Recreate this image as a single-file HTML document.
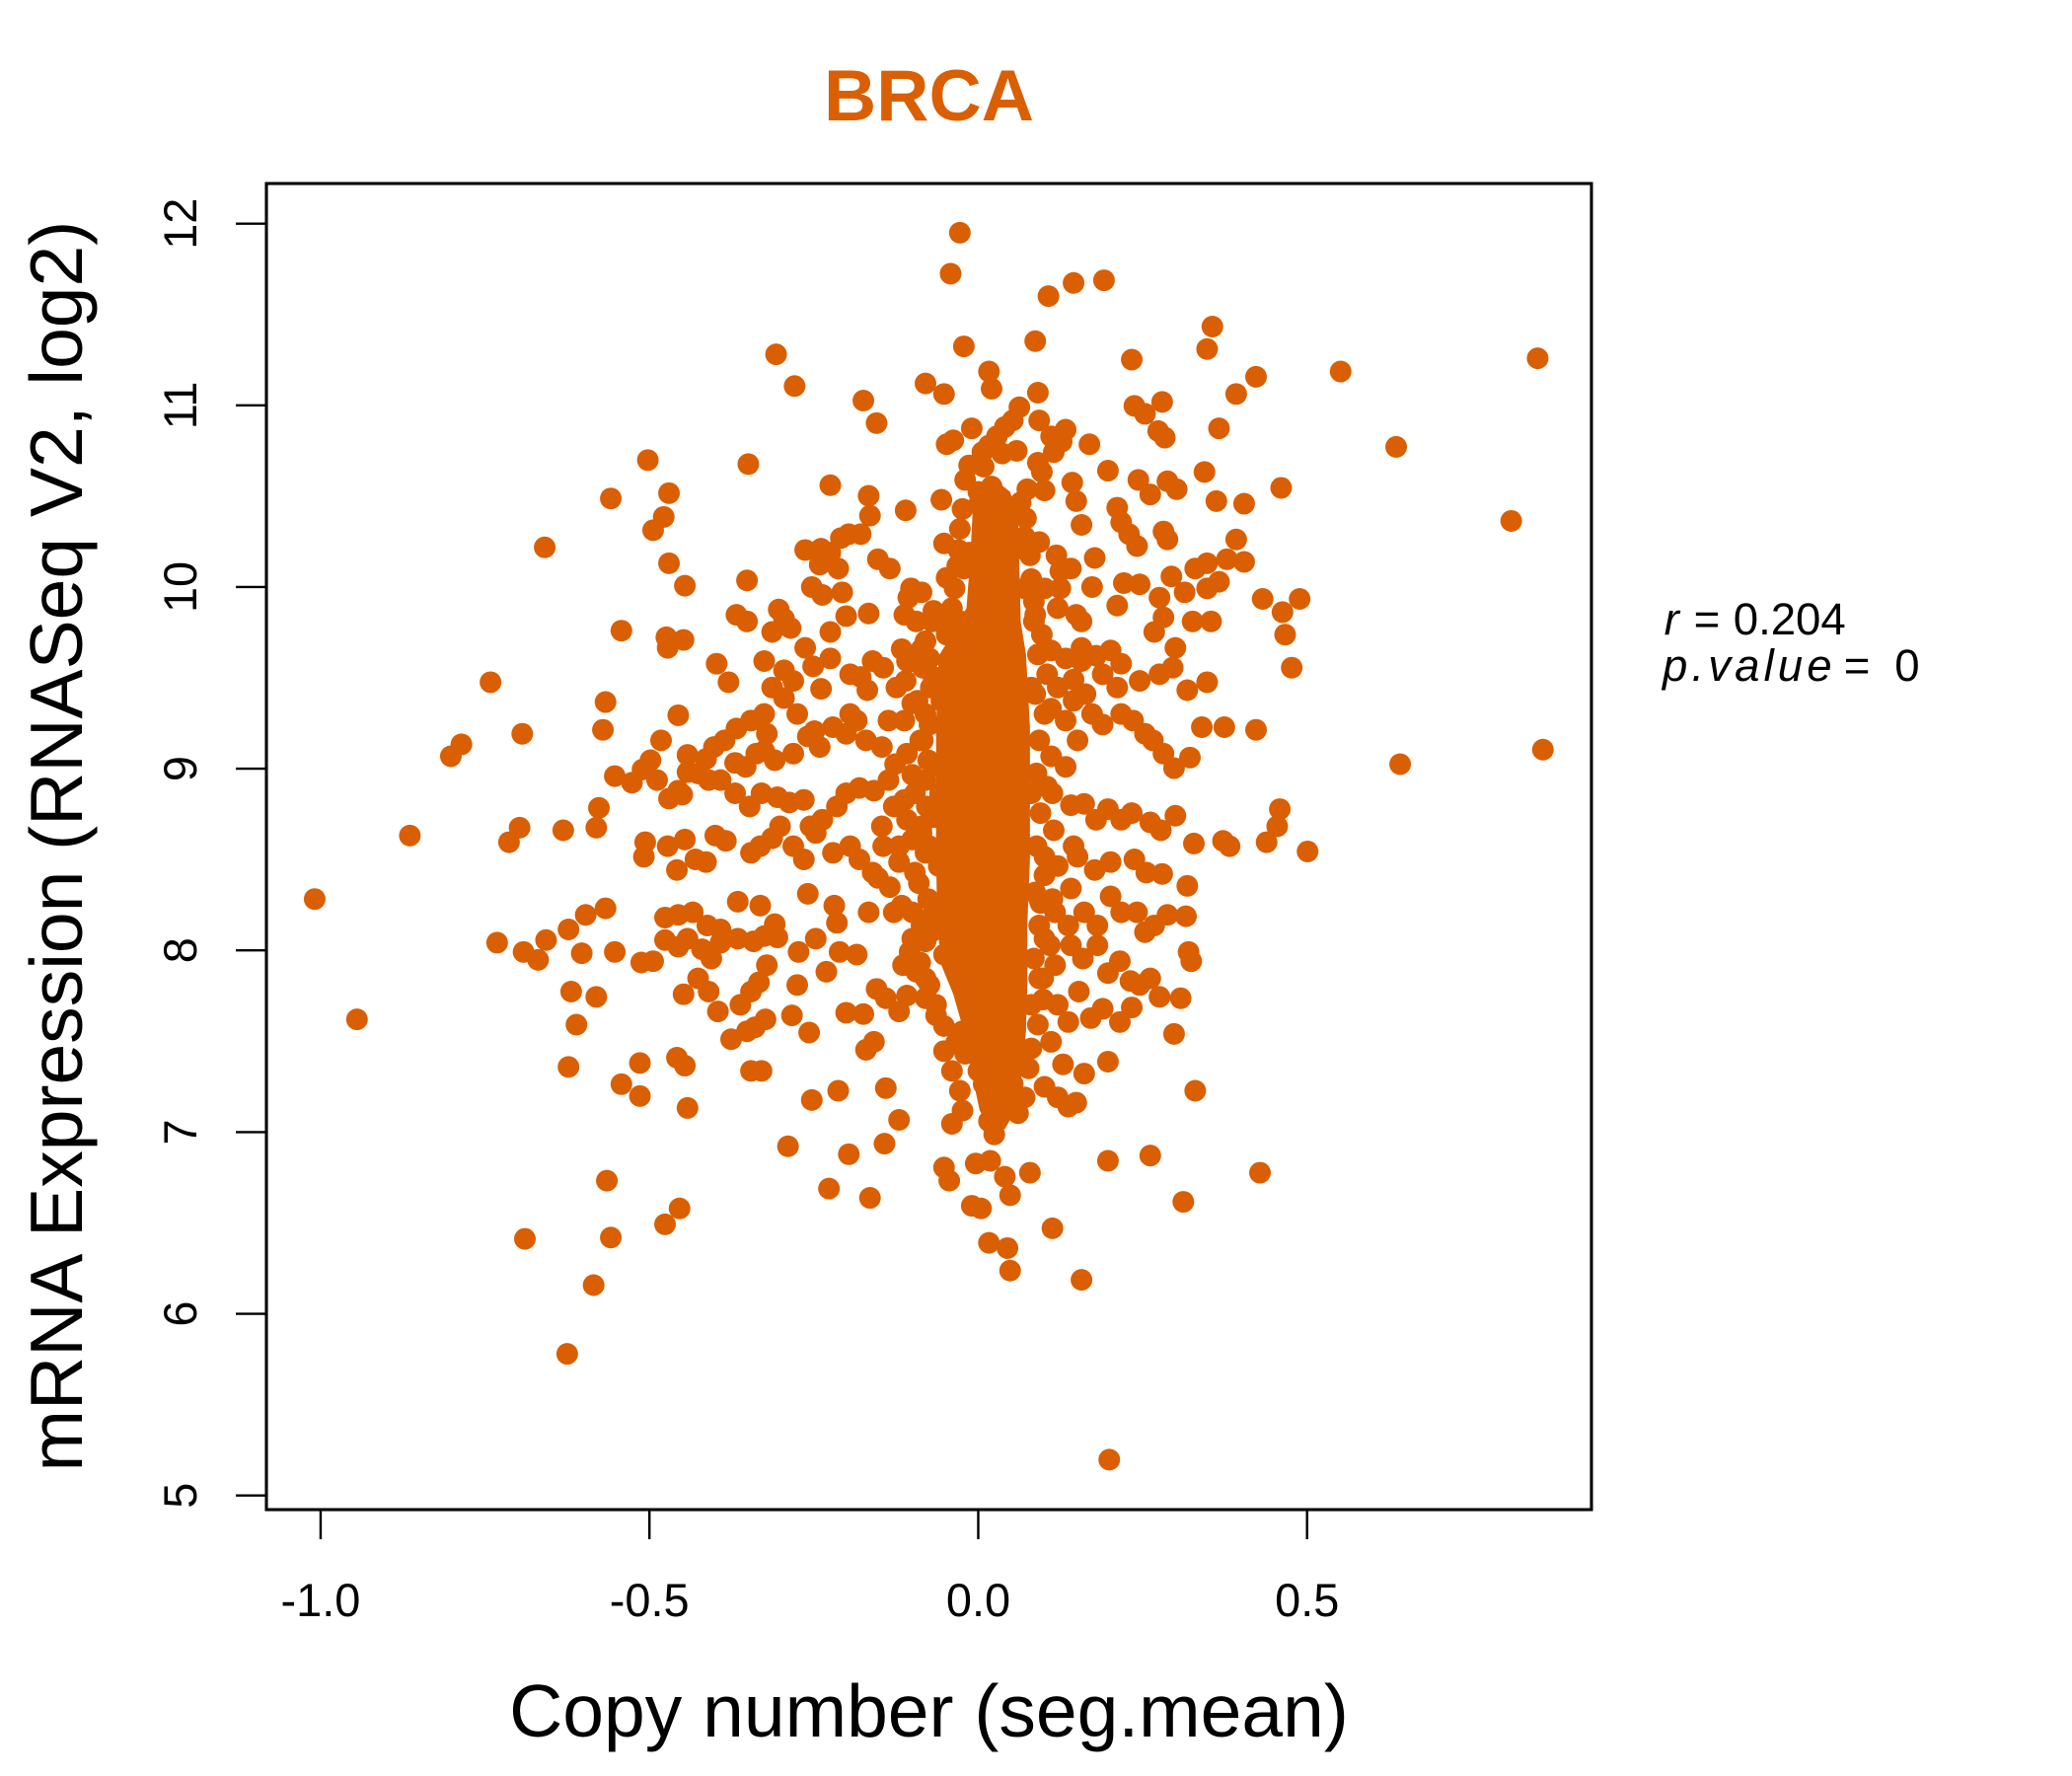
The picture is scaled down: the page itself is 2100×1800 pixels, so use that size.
<!DOCTYPE html>
<html>
<head>
<meta charset="utf-8">
<style>
html,body{margin:0;padding:0;background:#fff;}
svg{display:block;}
text{font-family:"Liberation Sans",Arial,Helvetica,sans-serif;}
</style>
</head>
<body>
<svg width="2100" height="1800" viewBox="0 0 1567.16 1343.28" preserveAspectRatio="none" xmlns="http://www.w3.org/2000/svg">
<rect x="0" y="0" width="1567.16" height="1343.28" fill="#fff"/>
<text x="702.6" y="91" font-size="55" font-weight="bold" fill="#D95F02" text-anchor="middle">BRCA</text>
<g fill="#D95F02">
<path d="M742,366 L736,380 L734,420 L731,460 L720,480 L710,496 L708,550 L708,650 L709,700 L712,730 L721,752 L729,780 L735,812 L741,840 L750,854 L760,854 L768,840 L773,812 L776,780 L777,745 L777,700 L779,650 L779,550 L776,495 L772,470 L771,430 L770,390 L764,372 L754,364 Z"/>
</g>
<g fill="#D95F02">
<circle cx="726" cy="176" r="8.2"/><circle cx="719" cy="207" r="8.2"/><circle cx="812" cy="214" r="8.2"/><circle cx="835" cy="212" r="8.2"/><circle cx="793" cy="224" r="8.2"/><circle cx="917" cy="247" r="8.2"/><circle cx="729" cy="262" r="8.2"/><circle cx="913" cy="264" r="8.2"/><circle cx="587" cy="268" r="8.2"/><circle cx="856" cy="272" r="8.2"/><circle cx="783" cy="258" r="8.2"/><circle cx="748" cy="281" r="8.2"/><circle cx="1163" cy="271" r="8.2"/><circle cx="1014" cy="281" r="8.2"/><circle cx="601" cy="292" r="8.2"/><circle cx="700" cy="290" r="8.2"/><circle cx="750" cy="294" r="8.2"/><circle cx="714" cy="298" r="8.2"/><circle cx="950" cy="285" r="8.2"/><circle cx="935" cy="298" r="8.2"/><circle cx="879" cy="304" r="8.2"/><circle cx="653" cy="303" r="8.2"/><circle cx="663" cy="320" r="8.2"/><circle cx="785" cy="297" r="8.2"/><circle cx="771" cy="308" r="8.2"/><circle cx="858" cy="307" r="8.2"/><circle cx="866" cy="313" r="8.2"/><circle cx="876" cy="326" r="8.2"/><circle cx="881" cy="331" r="8.2"/><circle cx="922" cy="324" r="8.2"/><circle cx="1056" cy="338" r="8.2"/><circle cx="766" cy="318" r="8.2"/><circle cx="760" cy="323" r="8.2"/><circle cx="754" cy="330" r="8.2"/><circle cx="748" cy="337" r="8.2"/><circle cx="743" cy="342" r="8.2"/><circle cx="735" cy="324" r="8.2"/><circle cx="721" cy="333" r="8.2"/><circle cx="716" cy="336" r="8.2"/><circle cx="786" cy="318" r="8.2"/><circle cx="795" cy="330" r="8.2"/><circle cx="806" cy="325" r="8.2"/><circle cx="803" cy="334" r="8.2"/><circle cx="797" cy="342" r="8.2"/><circle cx="824" cy="336" r="8.2"/><circle cx="785" cy="350" r="8.2"/><circle cx="758" cy="343" r="8.2"/><circle cx="769" cy="341" r="8.2"/><circle cx="733" cy="352" r="8.2"/><circle cx="744" cy="353" r="8.2"/><circle cx="490" cy="348" r="8.2"/>
<circle cx="566" cy="351" r="8.2"/><circle cx="730" cy="363" r="8.2"/><circle cx="788" cy="357" r="8.2"/><circle cx="811" cy="365" r="8.2"/><circle cx="790" cy="371" r="8.2"/><circle cx="838" cy="356" r="8.2"/><circle cx="861" cy="363" r="8.2"/><circle cx="911" cy="357" r="8.2"/><circle cx="883" cy="364" r="8.2"/><circle cx="890" cy="370" r="8.2"/><circle cx="628" cy="367" r="8.2"/><circle cx="657" cy="375" r="8.2"/><circle cx="462" cy="377" r="8.2"/><circle cx="506" cy="373" r="8.2"/><circle cx="685" cy="386" r="8.2"/><circle cx="712" cy="378" r="8.2"/><circle cx="741" cy="380" r="8.2"/><circle cx="745" cy="385" r="8.2"/><circle cx="751" cy="390" r="8.2"/><circle cx="762" cy="385" r="8.2"/><circle cx="772" cy="380" r="8.2"/><circle cx="814" cy="379" r="8.2"/><circle cx="845" cy="384" r="8.2"/><circle cx="870" cy="374" r="8.2"/><circle cx="920" cy="379" r="8.2"/><circle cx="941" cy="381" r="8.2"/><circle cx="969" cy="369" r="8.2"/><circle cx="502" cy="391" r="8.2"/><circle cx="494" cy="401" r="8.2"/><circle cx="1143" cy="394" r="8.2"/><circle cx="658" cy="390" r="8.2"/><circle cx="642" cy="404" r="8.2"/><circle cx="636" cy="407" r="8.2"/><circle cx="651" cy="404" r="8.2"/><circle cx="609" cy="416" r="8.2"/><circle cx="621" cy="415" r="8.2"/><circle cx="714" cy="411" r="8.2"/><circle cx="725" cy="416" r="8.2"/><circle cx="757" cy="400" r="8.2"/><circle cx="775" cy="406" r="8.2"/><circle cx="786" cy="410" r="8.2"/><circle cx="818" cy="397" r="8.2"/><circle cx="848" cy="395" r="8.2"/><circle cx="854" cy="404" r="8.2"/><circle cx="880" cy="402" r="8.2"/><circle cx="883" cy="408" r="8.2"/><circle cx="412" cy="414" r="8.2"/><circle cx="506" cy="426" r="8.2"/><circle cx="664" cy="423" r="8.2"/><circle cx="673" cy="430" r="8.2"/><circle cx="634" cy="430" r="8.2"/><circle cx="620" cy="427" r="8.2"/><circle cx="628" cy="418" r="8.2"/><circle cx="733" cy="418" r="8.2"/><circle cx="742" cy="415" r="8.2"/><circle cx="773" cy="415" r="8.2"/><circle cx="799" cy="420" r="8.2"/><circle cx="802" cy="432" r="8.2"/><circle cx="828" cy="422" r="8.2"/><circle cx="810" cy="430" r="8.2"/><circle cx="860" cy="413" r="8.2"/><circle cx="935" cy="408" r="8.2"/><circle cx="928" cy="423" r="8.2"/><circle cx="941" cy="425" r="8.2"/><circle cx="913" cy="426" r="8.2"/>
<circle cx="518" cy="443" r="8.2"/><circle cx="565" cy="439" r="8.2"/><circle cx="689" cy="445" r="8.2"/><circle cx="697" cy="448" r="8.2"/><circle cx="716" cy="437" r="8.2"/><circle cx="724" cy="428" r="8.2"/><circle cx="780" cy="438" r="8.2"/><circle cx="790" cy="445" r="8.2"/><circle cx="802" cy="445" r="8.2"/><circle cx="826" cy="444" r="8.2"/><circle cx="850" cy="441" r="8.2"/><circle cx="862" cy="442" r="8.2"/><circle cx="886" cy="436" r="8.2"/><circle cx="896" cy="448" r="8.2"/><circle cx="904" cy="430" r="8.2"/><circle cx="913" cy="445" r="8.2"/><circle cx="922" cy="440" r="8.2"/><circle cx="637" cy="448" r="8.2"/><circle cx="614" cy="444" r="8.2"/><circle cx="622" cy="450" r="8.2"/><circle cx="589" cy="461" r="8.2"/><circle cx="593" cy="468" r="8.2"/><circle cx="598" cy="475" r="8.2"/><circle cx="584" cy="478" r="8.2"/><circle cx="557" cy="465" r="8.2"/><circle cx="565" cy="470" r="8.2"/><circle cx="470" cy="477" r="8.2"/><circle cx="504" cy="482" r="8.2"/><circle cx="517" cy="484" r="8.2"/><circle cx="505" cy="490" r="8.2"/><circle cx="628" cy="478" r="8.2"/><circle cx="640" cy="466" r="8.2"/><circle cx="657" cy="464" r="8.2"/><circle cx="687" cy="452" r="8.2"/><circle cx="684" cy="465" r="8.2"/><circle cx="693" cy="470" r="8.2"/><circle cx="706" cy="462" r="8.2"/><circle cx="714" cy="470" r="8.2"/><circle cx="783" cy="465" r="8.2"/><circle cx="800" cy="460" r="8.2"/><circle cx="814" cy="465" r="8.2"/><circle cx="818" cy="470" r="8.2"/><circle cx="845" cy="458" r="8.2"/><circle cx="877" cy="452" r="8.2"/><circle cx="880" cy="467" r="8.2"/><circle cx="873" cy="478" r="8.2"/><circle cx="889" cy="490" r="8.2"/><circle cx="902" cy="470" r="8.2"/><circle cx="916" cy="470" r="8.2"/><circle cx="970" cy="463" r="8.2"/><circle cx="955" cy="453" r="8.2"/><circle cx="972" cy="480" r="8.2"/><circle cx="983" cy="453" r="8.2"/>
<circle cx="542" cy="502" r="8.2"/><circle cx="551" cy="516" r="8.2"/><circle cx="578" cy="500" r="8.2"/><circle cx="593" cy="507" r="8.2"/><circle cx="609" cy="490" r="8.2"/><circle cx="615" cy="504" r="8.2"/><circle cx="628" cy="498" r="8.2"/><circle cx="621" cy="521" r="8.2"/><circle cx="643" cy="510" r="8.2"/><circle cx="651" cy="512" r="8.2"/><circle cx="656" cy="522" r="8.2"/><circle cx="660" cy="500" r="8.2"/><circle cx="668" cy="505" r="8.2"/><circle cx="682" cy="491" r="8.2"/><circle cx="690" cy="500" r="8.2"/><circle cx="697" cy="491" r="8.2"/><circle cx="703" cy="498" r="8.2"/><circle cx="706" cy="512" r="8.2"/><circle cx="685" cy="515" r="8.2"/><circle cx="795" cy="492" r="8.2"/><circle cx="806" cy="498" r="8.2"/><circle cx="818" cy="500" r="8.2"/><circle cx="829" cy="496" r="8.2"/><circle cx="840" cy="492" r="8.2"/><circle cx="848" cy="502" r="8.2"/><circle cx="834" cy="510" r="8.2"/><circle cx="812" cy="514" r="8.2"/><circle cx="800" cy="520" r="8.2"/><circle cx="821" cy="525" r="8.2"/><circle cx="845" cy="520" r="8.2"/><circle cx="862" cy="515" r="8.2"/><circle cx="877" cy="510" r="8.2"/><circle cx="887" cy="505" r="8.2"/><circle cx="898" cy="522" r="8.2"/><circle cx="913" cy="516" r="8.2"/><circle cx="977" cy="505" r="8.2"/><circle cx="371" cy="516" r="8.2"/><circle cx="458" cy="531" r="8.2"/><circle cx="456" cy="552" r="8.2"/><circle cx="584" cy="520" r="8.2"/><circle cx="593" cy="528" r="8.2"/><circle cx="600" cy="515" r="8.2"/><circle cx="603" cy="540" r="8.2"/><circle cx="578" cy="540" r="8.2"/><circle cx="568" cy="545" r="8.2"/><circle cx="580" cy="555" r="8.2"/><circle cx="557" cy="551" r="8.2"/><circle cx="548" cy="560" r="8.2"/><circle cx="540" cy="565" r="8.2"/><circle cx="534" cy="574" r="8.2"/><circle cx="520" cy="571" r="8.2"/><circle cx="513" cy="541" r="8.2"/><circle cx="500" cy="560" r="8.2"/><circle cx="492" cy="575" r="8.2"/><circle cx="497" cy="590" r="8.2"/><circle cx="486" cy="582" r="8.2"/><circle cx="478" cy="592" r="8.2"/><circle cx="506" cy="604" r="8.2"/><circle cx="513" cy="598" r="8.2"/><circle cx="520" cy="584" r="8.2"/><circle cx="528" cy="585" r="8.2"/><circle cx="536" cy="590" r="8.2"/><circle cx="545" cy="590" r="8.2"/><circle cx="556" cy="577" r="8.2"/><circle cx="564" cy="580" r="8.2"/><circle cx="572" cy="570" r="8.2"/><circle cx="578" cy="568" r="8.2"/><circle cx="586" cy="575" r="8.2"/><circle cx="600" cy="570" r="8.2"/><circle cx="611" cy="557" r="8.2"/><circle cx="620" cy="565" r="8.2"/><circle cx="616" cy="553" r="8.2"/><circle cx="630" cy="550" r="8.2"/><circle cx="640" cy="555" r="8.2"/><circle cx="648" cy="545" r="8.2"/><circle cx="643" cy="540" r="8.2"/><circle cx="655" cy="560" r="8.2"/><circle cx="667" cy="565" r="8.2"/><circle cx="672" cy="545" r="8.2"/><circle cx="684" cy="545" r="8.2"/><circle cx="690" cy="532" r="8.2"/><circle cx="700" cy="540" r="8.2"/><circle cx="698" cy="560" r="8.2"/><circle cx="686" cy="570" r="8.2"/><circle cx="677" cy="578" r="8.2"/><circle cx="690" cy="586" r="8.2"/><circle cx="700" cy="590" r="8.2"/><circle cx="708" cy="579" r="8.2"/><circle cx="795" cy="536" r="8.2"/><circle cx="806" cy="545" r="8.2"/><circle cx="812" cy="530" r="8.2"/><circle cx="826" cy="540" r="8.2"/><circle cx="834" cy="548" r="8.2"/><circle cx="848" cy="540" r="8.2"/><circle cx="857" cy="545" r="8.2"/><circle cx="866" cy="555" r="8.2"/><circle cx="872" cy="560" r="8.2"/><circle cx="880" cy="570" r="8.2"/><circle cx="888" cy="581" r="8.2"/><circle cx="900" cy="573" r="8.2"/><circle cx="909" cy="550" r="8.2"/><circle cx="926" cy="550" r="8.2"/><circle cx="950" cy="552" r="8.2"/><circle cx="1059" cy="578" r="8.2"/><circle cx="1167" cy="567" r="8.2"/><circle cx="349" cy="563" r="8.2"/><circle cx="341" cy="572" r="8.2"/><circle cx="395" cy="555" r="8.2"/><circle cx="465" cy="587" r="8.2"/>
<circle cx="310" cy="632" r="8.2"/><circle cx="393" cy="626" r="8.2"/><circle cx="385" cy="637" r="8.2"/><circle cx="426" cy="628" r="8.2"/><circle cx="453" cy="611" r="8.2"/><circle cx="451" cy="626" r="8.2"/><circle cx="516" cy="601" r="8.2"/><circle cx="556" cy="600" r="8.2"/><circle cx="567" cy="610" r="8.2"/><circle cx="576" cy="600" r="8.2"/><circle cx="588" cy="603" r="8.2"/><circle cx="597" cy="607" r="8.2"/><circle cx="608" cy="605" r="8.2"/><circle cx="613" cy="625" r="8.2"/><circle cx="622" cy="620" r="8.2"/><circle cx="633" cy="610" r="8.2"/><circle cx="640" cy="600" r="8.2"/><circle cx="650" cy="596" r="8.2"/><circle cx="661" cy="598" r="8.2"/><circle cx="672" cy="590" r="8.2"/><circle cx="667" cy="625" r="8.2"/><circle cx="676" cy="610" r="8.2"/><circle cx="686" cy="620" r="8.2"/><circle cx="690" cy="635" r="8.2"/><circle cx="697" cy="630" r="8.2"/><circle cx="707" cy="618" r="8.2"/><circle cx="796" cy="600" r="8.2"/><circle cx="810" cy="609" r="8.2"/><circle cx="820" cy="608" r="8.2"/><circle cx="829" cy="620" r="8.2"/><circle cx="838" cy="612" r="8.2"/><circle cx="848" cy="620" r="8.2"/><circle cx="856" cy="615" r="8.2"/><circle cx="870" cy="622" r="8.2"/><circle cx="878" cy="628" r="8.2"/><circle cx="889" cy="617" r="8.2"/><circle cx="903" cy="638" r="8.2"/><circle cx="968" cy="612" r="8.2"/><circle cx="966" cy="625" r="8.2"/><circle cx="958" cy="637" r="8.2"/><circle cx="989" cy="644" r="8.2"/><circle cx="930" cy="640" r="8.2"/><circle cx="925" cy="636" r="8.2"/><circle cx="488" cy="637" r="8.2"/><circle cx="487" cy="648" r="8.2"/><circle cx="505" cy="640" r="8.2"/><circle cx="512" cy="658" r="8.2"/><circle cx="518" cy="635" r="8.2"/><circle cx="526" cy="650" r="8.2"/><circle cx="534" cy="652" r="8.2"/><circle cx="541" cy="632" r="8.2"/><circle cx="549" cy="636" r="8.2"/><circle cx="568" cy="645" r="8.2"/><circle cx="575" cy="640" r="8.2"/><circle cx="584" cy="634" r="8.2"/><circle cx="590" cy="625" r="8.2"/><circle cx="600" cy="640" r="8.2"/><circle cx="608" cy="650" r="8.2"/><circle cx="617" cy="630" r="8.2"/><circle cx="630" cy="645" r="8.2"/><circle cx="643" cy="640" r="8.2"/><circle cx="650" cy="650" r="8.2"/><circle cx="660" cy="660" r="8.2"/><circle cx="668" cy="640" r="8.2"/><circle cx="680" cy="652" r="8.2"/><circle cx="692" cy="660" r="8.2"/><circle cx="700" cy="645" r="8.2"/><circle cx="710" cy="655" r="8.2"/><circle cx="790" cy="648" r="8.2"/><circle cx="800" cy="655" r="8.2"/><circle cx="815" cy="648" r="8.2"/><circle cx="828" cy="658" r="8.2"/><circle cx="840" cy="652" r="8.2"/><circle cx="858" cy="650" r="8.2"/><circle cx="867" cy="660" r="8.2"/><circle cx="879" cy="661" r="8.2"/><circle cx="898" cy="670" r="8.2"/>
<circle cx="238" cy="680" r="8.2"/><circle cx="458" cy="687" r="8.2"/><circle cx="443" cy="692" r="8.2"/><circle cx="430" cy="703" r="8.2"/><circle cx="413" cy="711" r="8.2"/><circle cx="503" cy="694" r="8.2"/><circle cx="513" cy="692" r="8.2"/><circle cx="524" cy="690" r="8.2"/><circle cx="535" cy="700" r="8.2"/><circle cx="545" cy="703" r="8.2"/><circle cx="558" cy="682" r="8.2"/><circle cx="575" cy="685" r="8.2"/><circle cx="586" cy="699" r="8.2"/><circle cx="611" cy="676" r="8.2"/><circle cx="631" cy="685" r="8.2"/><circle cx="633" cy="698" r="8.2"/><circle cx="657" cy="690" r="8.2"/><circle cx="664" cy="664" r="8.2"/><circle cx="673" cy="671" r="8.2"/><circle cx="682" cy="685" r="8.2"/><circle cx="697" cy="700" r="8.2"/><circle cx="700" cy="712" r="8.2"/><circle cx="706" cy="690" r="8.2"/><circle cx="787" cy="683" r="8.2"/><circle cx="798" cy="690" r="8.2"/><circle cx="810" cy="672" r="8.2"/><circle cx="820" cy="690" r="8.2"/><circle cx="830" cy="700" r="8.2"/><circle cx="840" cy="678" r="8.2"/><circle cx="848" cy="690" r="8.2"/><circle cx="860" cy="690" r="8.2"/><circle cx="866" cy="705" r="8.2"/><circle cx="873" cy="700" r="8.2"/><circle cx="883" cy="692" r="8.2"/><circle cx="897" cy="693" r="8.2"/><circle cx="899" cy="720" r="8.2"/><circle cx="376" cy="713" r="8.2"/><circle cx="396" cy="720" r="8.2"/><circle cx="407" cy="726" r="8.2"/><circle cx="440" cy="721" r="8.2"/><circle cx="465" cy="720" r="8.2"/><circle cx="485" cy="728" r="8.2"/><circle cx="494" cy="727" r="8.2"/><circle cx="503" cy="711" r="8.2"/><circle cx="513" cy="716" r="8.2"/><circle cx="520" cy="710" r="8.2"/><circle cx="531" cy="718" r="8.2"/><circle cx="538" cy="725" r="8.2"/><circle cx="545" cy="713" r="8.2"/><circle cx="558" cy="710" r="8.2"/><circle cx="570" cy="712" r="8.2"/><circle cx="578" cy="708" r="8.2"/><circle cx="588" cy="709" r="8.2"/><circle cx="604" cy="720" r="8.2"/><circle cx="617" cy="710" r="8.2"/><circle cx="625" cy="735" r="8.2"/><circle cx="635" cy="720" r="8.2"/><circle cx="648" cy="722" r="8.2"/><circle cx="688" cy="720" r="8.2"/><circle cx="693" cy="735" r="8.2"/><circle cx="700" cy="740" r="8.2"/><circle cx="714" cy="722" r="8.2"/><circle cx="722" cy="730" r="8.2"/><circle cx="790" cy="710" r="8.2"/><circle cx="798" cy="730" r="8.2"/><circle cx="810" cy="715" r="8.2"/><circle cx="819" cy="725" r="8.2"/><circle cx="830" cy="715" r="8.2"/><circle cx="838" cy="736" r="8.2"/><circle cx="847" cy="727" r="8.2"/><circle cx="855" cy="742" r="8.2"/><circle cx="862" cy="745" r="8.2"/><circle cx="870" cy="740" r="8.2"/><circle cx="877" cy="754" r="8.2"/><circle cx="893" cy="755" r="8.2"/><circle cx="901" cy="727" r="8.2"/>
<circle cx="432" cy="750" r="8.2"/><circle cx="436" cy="775" r="8.2"/><circle cx="451" cy="754" r="8.2"/><circle cx="517" cy="752" r="8.2"/><circle cx="528" cy="740" r="8.2"/><circle cx="536" cy="750" r="8.2"/><circle cx="543" cy="765" r="8.2"/><circle cx="560" cy="760" r="8.2"/><circle cx="568" cy="750" r="8.2"/><circle cx="574" cy="743" r="8.2"/><circle cx="580" cy="730" r="8.2"/><circle cx="603" cy="745" r="8.2"/><circle cx="640" cy="766" r="8.2"/><circle cx="653" cy="767" r="8.2"/><circle cx="663" cy="748" r="8.2"/><circle cx="670" cy="755" r="8.2"/><circle cx="680" cy="765" r="8.2"/><circle cx="686" cy="753" r="8.2"/><circle cx="700" cy="755" r="8.2"/><circle cx="708" cy="768" r="8.2"/><circle cx="714" cy="776" r="8.2"/><circle cx="789" cy="756" r="8.2"/><circle cx="800" cy="760" r="8.2"/><circle cx="808" cy="773" r="8.2"/><circle cx="816" cy="750" r="8.2"/><circle cx="825" cy="770" r="8.2"/><circle cx="834" cy="763" r="8.2"/><circle cx="847" cy="773" r="8.2"/><circle cx="856" cy="762" r="8.2"/><circle cx="270" cy="771" r="8.2"/><circle cx="470" cy="820" r="8.2"/><circle cx="484" cy="804" r="8.2"/><circle cx="512" cy="800" r="8.2"/><circle cx="518" cy="806" r="8.2"/><circle cx="553" cy="786" r="8.2"/><circle cx="565" cy="780" r="8.2"/><circle cx="571" cy="777" r="8.2"/><circle cx="579" cy="771" r="8.2"/><circle cx="599" cy="768" r="8.2"/><circle cx="612" cy="781" r="8.2"/><circle cx="655" cy="794" r="8.2"/><circle cx="661" cy="788" r="8.2"/><circle cx="723" cy="789" r="8.2"/><circle cx="730" cy="797" r="8.2"/><circle cx="740" cy="810" r="8.2"/><circle cx="780" cy="793" r="8.2"/><circle cx="795" cy="788" r="8.2"/><circle cx="804" cy="805" r="8.2"/><circle cx="820" cy="812" r="8.2"/><circle cx="838" cy="803" r="8.2"/><circle cx="888" cy="782" r="8.2"/><circle cx="430" cy="807" r="8.2"/><circle cx="484" cy="829" r="8.2"/><circle cx="520" cy="838" r="8.2"/><circle cx="576" cy="810" r="8.2"/><circle cx="568" cy="810" r="8.2"/><circle cx="614" cy="832" r="8.2"/><circle cx="634" cy="825" r="8.2"/><circle cx="670" cy="823" r="8.2"/><circle cx="680" cy="847" r="8.2"/><circle cx="790" cy="822" r="8.2"/><circle cx="800" cy="830" r="8.2"/><circle cx="808" cy="837" r="8.2"/><circle cx="814" cy="834" r="8.2"/><circle cx="904" cy="825" r="8.2"/>
<circle cx="596" cy="867" r="8.2"/><circle cx="642" cy="873" r="8.2"/><circle cx="669" cy="865" r="8.2"/><circle cx="720" cy="850" r="8.2"/><circle cx="748" cy="848" r="8.2"/><circle cx="752" cy="858" r="8.2"/><circle cx="770" cy="842" r="8.2"/><circle cx="756" cy="830" r="8.2"/><circle cx="749" cy="878" r="8.2"/><circle cx="760" cy="890" r="8.2"/><circle cx="718" cy="893" r="8.2"/><circle cx="714" cy="883" r="8.2"/><circle cx="738" cy="880" r="8.2"/><circle cx="742" cy="914" r="8.2"/><circle cx="735" cy="912" r="8.2"/><circle cx="764" cy="904" r="8.2"/><circle cx="779" cy="887" r="8.2"/><circle cx="838" cy="878" r="8.2"/><circle cx="870" cy="874" r="8.2"/><circle cx="953" cy="887" r="8.2"/><circle cx="459" cy="893" r="8.2"/><circle cx="627" cy="899" r="8.2"/><circle cx="658" cy="906" r="8.2"/><circle cx="895" cy="909" r="8.2"/><circle cx="796" cy="929" r="8.2"/><circle cx="748" cy="940" r="8.2"/><circle cx="762" cy="944" r="8.2"/><circle cx="764" cy="961" r="8.2"/><circle cx="818" cy="968" r="8.2"/><circle cx="503" cy="926" r="8.2"/><circle cx="514" cy="914" r="8.2"/><circle cx="397" cy="937" r="8.2"/><circle cx="462" cy="936" r="8.2"/><circle cx="449" cy="972" r="8.2"/><circle cx="429" cy="1024" r="8.2"/><circle cx="839" cy="1104" r="8.2"/>
<circle cx="716" cy="480" r="8.2"/><circle cx="712" cy="530" r="8.2"/><circle cx="711" cy="600" r="8.2"/><circle cx="780" cy="520" r="8.2"/><circle cx="780" cy="600" r="8.2"/><circle cx="786" cy="680" r="8.2"/><circle cx="786" cy="740" r="8.2"/><circle cx="772" cy="800" r="8.2"/><circle cx="766" cy="820" r="8.2"/><circle cx="728" cy="780" r="8.2"/><circle cx="744" cy="820" r="8.2"/><circle cx="712" cy="700" r="8.2"/><circle cx="740" cy="372" r="8.2"/><circle cx="750" cy="368" r="8.2"/>
<circle cx="705" cy="470" r="8.2"/><circle cx="700" cy="485" r="8.2"/><circle cx="698" cy="505" r="8.2"/><circle cx="704" cy="520" r="8.2"/><circle cx="694" cy="530" r="8.2"/><circle cx="703" cy="548" r="8.2"/><circle cx="696" cy="560" r="8.2"/><circle cx="702" cy="575" r="8.2"/><circle cx="692" cy="600" r="8.2"/><circle cx="701" cy="610" r="8.2"/><circle cx="697" cy="625" r="8.2"/><circle cx="703" cy="640" r="8.2"/><circle cx="695" cy="668" r="8.2"/><circle cx="702" cy="680" r="8.2"/><circle cx="690" cy="690" r="8.2"/><circle cx="704" cy="705" r="8.2"/><circle cx="696" cy="728" r="8.2"/><circle cx="703" cy="745" r="8.2"/><circle cx="708" cy="760" r="8.2"/><circle cx="714" cy="795" r="8.2"/><circle cx="720" cy="810" r="8.2"/><circle cx="726" cy="825" r="8.2"/><circle cx="728" cy="840" r="8.2"/><circle cx="684" cy="605" r="8.2"/><circle cx="680" cy="640" r="8.2"/><circle cx="676" cy="690" r="8.2"/><circle cx="690" cy="710" r="8.2"/><circle cx="683" cy="730" r="8.2"/><circle cx="686" cy="500" r="8.2"/><circle cx="678" cy="520" r="8.2"/>
<circle cx="728" cy="385" r="8.2"/><circle cx="726" cy="400" r="8.2"/><circle cx="722" cy="445" r="8.2"/><circle cx="720" cy="460" r="8.2"/><circle cx="727" cy="470" r="8.2"/><circle cx="729" cy="430" r="8.2"/>
<circle cx="782" cy="470" r="8.2"/><circle cx="788" cy="480" r="8.2"/><circle cx="785" cy="495" r="8.2"/><circle cx="792" cy="510" r="8.2"/><circle cx="783" cy="525" r="8.2"/><circle cx="790" cy="540" r="8.2"/><circle cx="786" cy="560" r="8.2"/><circle cx="795" cy="572" r="8.2"/><circle cx="784" cy="585" r="8.2"/><circle cx="792" cy="595" r="8.2"/><circle cx="787" cy="615" r="8.2"/><circle cx="797" cy="628" r="8.2"/><circle cx="784" cy="640" r="8.2"/><circle cx="790" cy="662" r="8.2"/><circle cx="783" cy="675" r="8.2"/><circle cx="796" cy="680" r="8.2"/><circle cx="786" cy="700" r="8.2"/><circle cx="794" cy="715" r="8.2"/><circle cx="782" cy="725" r="8.2"/><circle cx="789" cy="740" r="8.2"/><circle cx="780" cy="760" r="8.2"/><circle cx="785" cy="775" r="8.2"/><circle cx="778" cy="808" r="8.2"/><circle cx="775" cy="830" r="8.2"/><circle cx="806" cy="580" r="8.2"/><circle cx="812" cy="640" r="8.2"/><circle cx="808" cy="700" r="8.2"/><circle cx="815" cy="560" r="8.2"/><circle cx="818" cy="490" r="8.2"/>
<circle cx="776" cy="392" r="8.2"/><circle cx="779" cy="420" r="8.2"/><circle cx="775" cy="445" r="8.2"/><circle cx="782" cy="455" r="8.2"/><circle cx="777" cy="370" r="8.2"/>
</g>
<g stroke="#000" fill="none">
<rect x="201.5" y="138.8" width="1002.2" height="1003" stroke-width="2.3"/>
<g stroke-width="1.8">
<line x1="178.4" y1="169.2" x2="201.5" y2="169.2"/>
<line x1="178.4" y1="306.6" x2="201.5" y2="306.6"/>
<line x1="178.4" y1="444.0" x2="201.5" y2="444.0"/>
<line x1="178.4" y1="581.4" x2="201.5" y2="581.4"/>
<line x1="178.4" y1="718.8" x2="201.5" y2="718.8"/>
<line x1="178.4" y1="856.3" x2="201.5" y2="856.3"/>
<line x1="178.4" y1="993.7" x2="201.5" y2="993.7"/>
<line x1="178.4" y1="1131.1" x2="201.5" y2="1131.1"/>
<line x1="242.5" y1="1141.8" x2="242.5" y2="1164.2"/>
<line x1="491.2" y1="1141.8" x2="491.2" y2="1164.2"/>
<line x1="739.9" y1="1141.8" x2="739.9" y2="1164.2"/>
<line x1="988.6" y1="1141.8" x2="988.6" y2="1164.2"/>
</g>
</g>
<g font-size="35" fill="#000" text-anchor="middle">
<text x="242.5" y="1222.4">-1.0</text>
<text x="491.2" y="1222.4">-0.5</text>
<text x="739.9" y="1222.4">0.0</text>
<text x="988.6" y="1222.4">0.5</text>
<text transform="translate(148.5,169.2) rotate(-90)">12</text>
<text transform="translate(148.5,306.6) rotate(-90)">11</text>
<text transform="translate(148.5,444.0) rotate(-90)">10</text>
<text transform="translate(148.5,581.4) rotate(-90)">9</text>
<text transform="translate(148.5,718.8) rotate(-90)">8</text>
<text transform="translate(148.5,856.3) rotate(-90)">7</text>
<text transform="translate(148.5,993.7) rotate(-90)">6</text>
<text transform="translate(148.5,1131.1) rotate(-90)">5</text>
</g>
<text x="702.6" y="1313.4" font-size="56" text-anchor="middle" fill="#000">Copy number (seg.mean)</text>
<text transform="translate(62,640) rotate(-90)" font-size="56" text-anchor="middle" fill="#000">mRNA Expression (RNASeq V2, log2)</text>
<g font-size="34" fill="#000">
<text x="1258.7" y="480" font-style="italic">r</text>
<text x="1291" y="480" text-anchor="middle">=</text>
<text x="1311" y="480">0.204</text>
<text x="1257.5" y="515" font-style="italic" textLength="128" lengthAdjust="spacing">p.value</text>
<text x="1404.5" y="515" text-anchor="middle">=</text>
<text x="1433" y="515">0</text>
</g>
</svg>
</body>
</html>
